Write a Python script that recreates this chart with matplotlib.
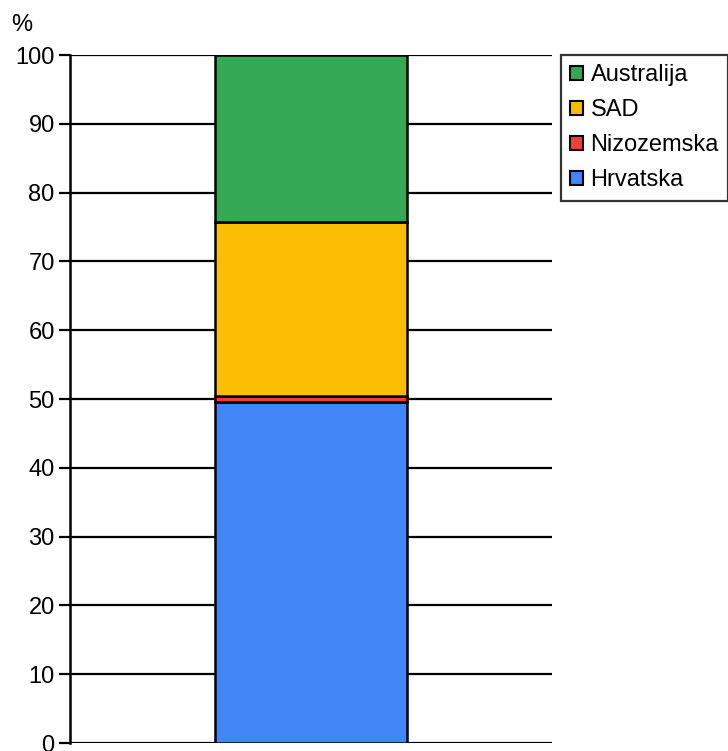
import matplotlib.pyplot as plt
from matplotlib.patches import Patch

plt.rcParams['font.family'] = ['Liberation Sans', 'DejaVu Sans']

countries = ["Hrvatska", "Nizozemska", "SAD", "Australija"]
shares = [49.6, 0.9, 25.2, 24.3]
colors = ["#4285f4", "#ea4335", "#fbbc04", "#34a853"]
yticks = [0, 10, 20, 30, 40, 50, 60, 70, 80, 90, 100]

fig = plt.figure(figsize=(7.28, 7.51), dpi=100)
ax = fig.add_axes([70 / 728, 8 / 751, 482 / 728, 688 / 751])

ax.set_ylim(0, 100)
ax.set_xlim(-0.5, 0.5)
ax.set_yticks(yticks)
ax.set_xticks([])
ax.yaxis.grid(True, color="black", linewidth=1.6)
ax.set_axisbelow(True)

bottom = 0
for name, val, col in zip(countries, shares, colors):
    ax.bar(0, val, width=0.4, bottom=bottom, color=col, edgecolor="black",
           linewidth=1.8, label=name)
    bottom += val

for side in ["top", "right", "bottom"]:
    ax.spines[side].set_visible(False)
ax.spines["left"].set_linewidth(1.8)
ax.tick_params(axis="y", length=8, width=1.6, labelsize=17, pad=3)

handles = [Patch(facecolor=c, edgecolor="black", linewidth=1.5) for c in colors]
leg = fig.legend(handles[::-1], countries[::-1], loc="upper left",
                 bbox_to_anchor=(561 / 728, 1 - 55 / 751), fontsize=17,
                 frameon=True, fancybox=False, edgecolor="black",
                 handlelength=0.55, handleheight=0.55, handletextpad=0.3,
                 borderpad=0.4, labelspacing=0.55, borderaxespad=0)
leg.get_frame().set_linewidth(1.6)

fig.text(22 / 728, 1 - 25 / 751, "%", fontsize=17, ha="center", va="center")

fig.savefig("out.png", dpi=100)
